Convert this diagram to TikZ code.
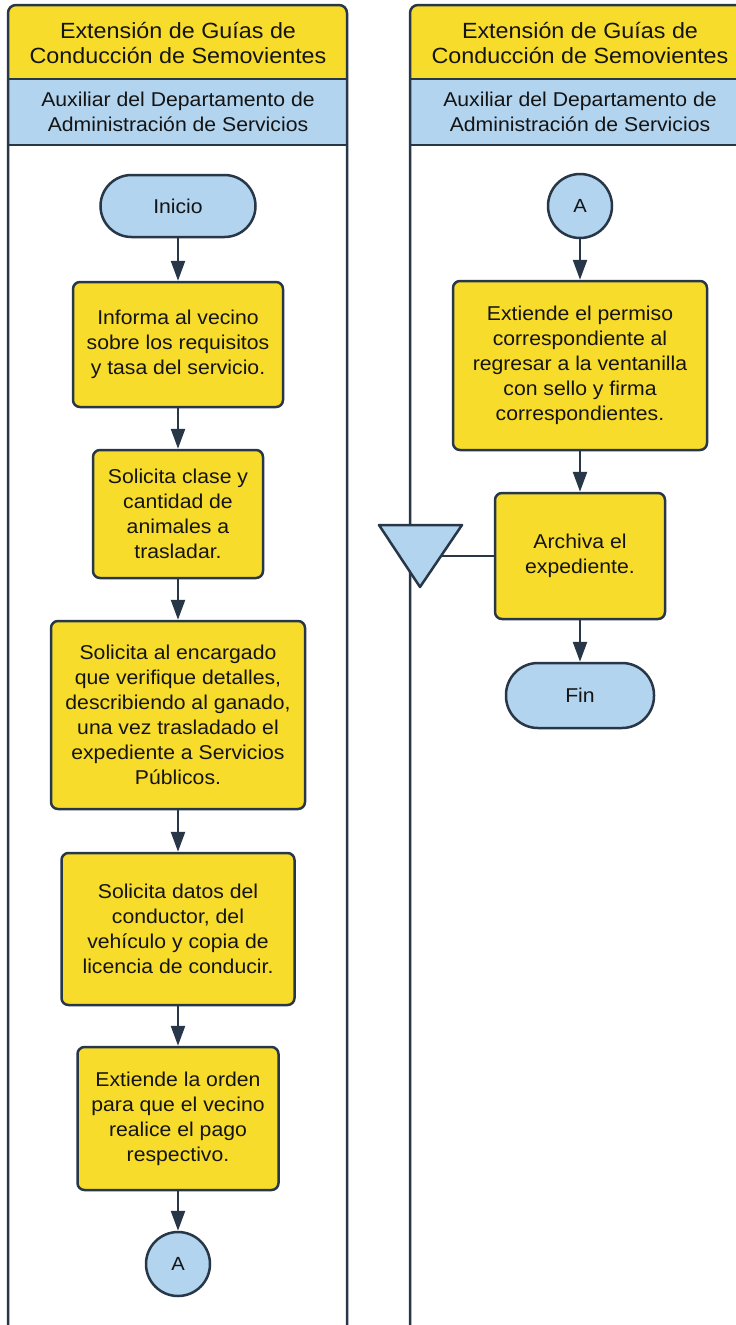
\documentclass[tikz,border=0pt]{standalone}
\usepackage{fontspec}
\setmainfont{Liberation Sans}[FakeStretch=1.06]
\usetikzlibrary{arrows.meta}
\definecolor{ylw}{RGB}{248,220,43}
\definecolor{blu}{RGB}{178,212,238}
\definecolor{ink}{RGB}{40,55,72}
\definecolor{txt}{RGB}{20,20,20}
\tikzset{
  lane/.style={draw=ink, line width=2.5pt},
  proc/.style={draw=ink, line width=2.5pt, fill=ylw, rounded corners=7pt, align=center,
    text=txt, inner sep=0pt, font=\fontsize{20}{25}\selectfont},
  term/.style={draw=ink, line width=2.5pt, fill=blu, align=center, text=txt, inner sep=0pt,
    font=\fontsize{20}{25}\selectfont},
  conn/.style={draw=ink, line width=2.5pt, fill=blu, circle, minimum size=64pt, inner sep=0pt,
    text=txt, font=\fontsize{19}{23}\selectfont},
  htitle/.style={align=center, text=txt, font=\fontsize{22}{25}\selectfont},
  hsub/.style={align=center, text=txt, font=\fontsize{20}{25}\selectfont},
  arr/.style={draw=ink, line width=2.5pt, -{Triangle[width=14pt,length=20pt]}},
  link/.style={draw=ink, line width=2.5pt}
}
\begin{document}
\begin{tikzpicture}[x=1pt,y=-1pt]
\useasboundingbox (0,0) rectangle (736,1325);
\clip (0,0) rectangle (736,1325);
\fill[white] (0,0) rectangle (736,1325);
% left lane
\fill[ylw, rounded corners=8pt] (8,5) rectangle (347,100);
\fill[blu] (8,79) rectangle (347,145);
\draw[lane, rounded corners=8pt] (8,1400) -- (8,5) -- (347,5) -- (347,1400);
\draw[lane] (8,79) -- (347,79);
\draw[lane] (8,145) -- (347,145);
\node[htitle] (t1) at (178,43) {Extensión de Guías de\\Conducción de Semovientes};
\node[hsub] (s1) at (178,112) {Auxiliar del Departamento de\\Administración de Servicios};
% right lane
\fill[ylw, rounded corners=8pt] (410,5) rectangle (751,100);
\fill[blu] (410,79) rectangle (751,145);
\draw[lane, rounded corners=8pt] (410,1400) -- (410,5) -- (751,5) -- (751,1400);
\draw[lane] (410,79) -- (751,79);
\draw[lane] (410,145) -- (751,145);
\node[htitle] (t2) at (580,43) {Extensión de Guías de\\Conducción de Semovientes};
\node[hsub] (s2) at (580,112) {Auxiliar del Departamento de\\Administración de Servicios};
% left lane nodes
\node[term, rounded corners=31pt, minimum width=155pt, minimum height=62pt] (ini) at (178,206) {Inicio};
\node[proc, minimum width=210pt, minimum height=125pt] (b1) at (178,344.5) {Informa al vecino\\sobre los requisitos\\y tasa del servicio.};
\node[proc, minimum width=170pt, minimum height=128pt] (b2) at (178,514) {Solicita clase y\\cantidad de\\animales a\\trasladar.};
\node[proc, minimum width=254pt, minimum height=188pt] (b3) at (178,715) {Solicita al encargado\\que verifique detalles,\\describiendo al ganado,\\una vez trasladado el\\expediente a Servicios\\Públicos.};
\node[proc, minimum width=233pt, minimum height=152pt] (b4) at (178,929) {Solicita datos del\\conductor, del\\vehículo y copia de\\licencia de conducir.};
\node[proc, minimum width=201pt, minimum height=143pt] (b5) at (178,1118.5) {Extiende la orden\\para que el vecino\\realice el pago\\respectivo.};
\node[conn] (a1) at (178,1264) {A};
\draw[arr] (ini) -- (b1);
\draw[arr] (b1) -- (b2);
\draw[arr] (b2) -- (b3);
\draw[arr] (b3) -- (b4);
\draw[arr] (b4) -- (b5);
\draw[arr] (b5) -- (a1);
% right lane nodes
\node[conn] (a2) at (580,206) {A};
\node[proc, minimum width=254pt, minimum height=169pt] (b6) at (580,365.5) {Extiende el permiso\\correspondiente al\\regresar a la ventanilla\\con sello y firma\\correspondientes.};
\node[proc, minimum width=170pt, minimum height=126pt] (b7) at (580,556) {Archiva el\\expediente.};
\node[term, rounded corners=32pt, minimum width=148pt, minimum height=65pt] (fin) at (580,695.5) {Fin};
\draw[arr] (a2) -- (b6);
\draw[arr] (b6) -- (b7);
\draw[arr] (b7) -- (fin);
% archive triangle
\coordinate (tl) at (379,525);
\coordinate (tr) at (462,525);
\coordinate (tb) at (420,587);
\coordinate (te) at (441,556);
\draw[draw=ink, line width=2.5pt, fill=blu, line join=round] (tl) -- (tr) -- (tb) -- cycle;
\draw[link] (b7.west) -- (te);
\end{tikzpicture}
\end{document}
